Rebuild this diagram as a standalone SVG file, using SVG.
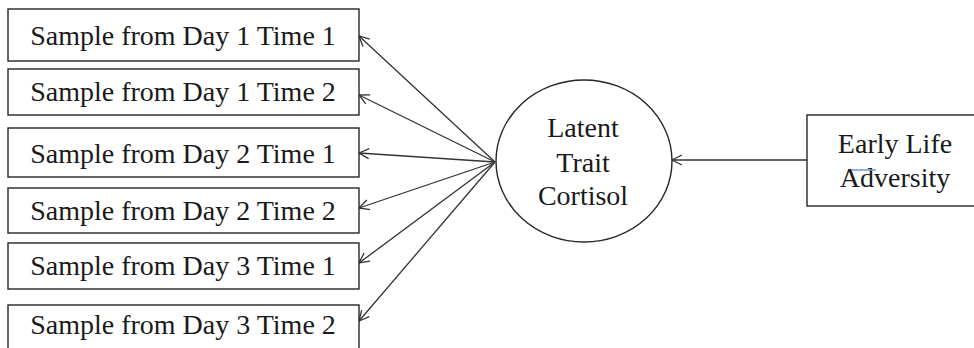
<svg xmlns="http://www.w3.org/2000/svg" width="974" height="348" viewBox="0 0 974 348">
  <style>
    .box { fill: #ffffff; stroke: #262626; stroke-width: 1.4; }
    .lbl { font-family: "Liberation Serif", "Times New Roman", serif; font-size: 28px; fill: #1a1a1a; text-anchor: middle; }
    .conn { stroke: #333333; stroke-width: 1.3; fill: none; marker-end: url(#arr); }
  </style>
  <defs>
    <marker id="arr" markerUnits="userSpaceOnUse" markerWidth="14" markerHeight="14" viewBox="0 0 14 14" refX="12.5" refY="7" orient="auto">
      <path d="M2.5,2 L12.5,7 L2.5,12" fill="none" stroke="#333333" stroke-width="1.3"/>
    </marker>
  </defs>
  <rect width="974" height="348" fill="#ffffff"/>

  <g id="connectors">
    <line class="conn" x1="495" y1="162" x2="359" y2="36"/>
    <line class="conn" x1="495" y1="162" x2="359" y2="95"/>
    <line class="conn" x1="495" y1="162" x2="359" y2="153"/>
    <line class="conn" x1="495" y1="162" x2="359" y2="208"/>
    <line class="conn" x1="495" y1="162" x2="359" y2="263"/>
    <line class="conn" x1="495" y1="162" x2="359" y2="321"/>
    <line class="conn" x1="807" y1="160" x2="672" y2="160"/>
  </g>

  <g id="d1t1">
    <rect class="box" x="8" y="9" width="351" height="52"/>
    <text class="lbl" x="183" y="45">Sample from Day 1 Time 1</text>
  </g>
  <g id="d1t2">
    <rect class="box" x="8" y="69" width="351" height="46"/>
    <text class="lbl" x="183" y="101">Sample from Day 1 Time 2</text>
  </g>
  <g id="d2t1">
    <rect class="box" x="8" y="128" width="351" height="49"/>
    <text class="lbl" x="183" y="163">Sample from Day 2 Time 1</text>
  </g>
  <g id="d2t2">
    <rect class="box" x="8" y="188" width="351" height="45"/>
    <text class="lbl" x="183" y="220">Sample from Day 2 Time 2</text>
  </g>
  <g id="d3t1">
    <rect class="box" x="8" y="243" width="351" height="46"/>
    <text class="lbl" x="183" y="275">Sample from Day 3 Time 1</text>
  </g>
  <g id="d3t2">
    <rect class="box" x="8" y="305" width="351" height="60"/>
    <text class="lbl" x="183" y="334">Sample from Day 3 Time 2</text>
  </g>

  <g id="latent">
    <ellipse class="box" cx="584" cy="161" rx="88" ry="81"/>
    <text class="lbl" x="583" y="137">Latent</text>
    <text class="lbl" x="583" y="172">Trait</text>
    <text class="lbl" x="583" y="205">Cortisol</text>
  </g>

  <g id="ela">
    <rect class="box" x="807" y="115" width="180" height="91"/>
    <text class="lbl" x="895" y="153">Early Life</text>
    <text class="lbl" x="895" y="187">Adversity</text>
    <line x1="852" y1="170" x2="876" y2="170" stroke="#7392d6" stroke-width="1.5"/>
  </g>
</svg>
